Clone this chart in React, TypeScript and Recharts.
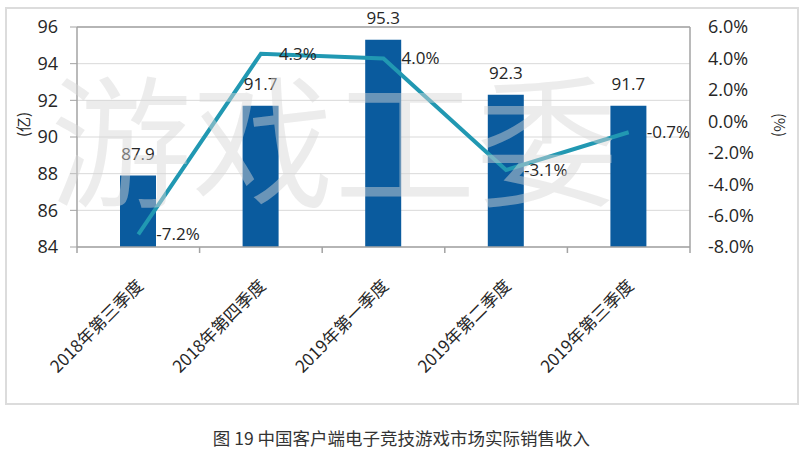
import { Bar, CartesianGrid, ComposedChart, LabelList, Line, ReferenceLine, XAxis, YAxis } from "recharts";

const quarters = ["2018年第三季度", "2018年第四季度", "2019年第一季度", "2019年第二季度", "2019年第三季度"];
const revenue = [87.9, 91.7, 95.3, 92.3, 91.7];
const growth = [-7.2, 4.3, 4.0, -3.1, -0.7];
const revenueTicks = [84, 86, 88, 90, 92, 94, 96];
const growthTicks = [-8, -6, -4, -2, 0, 2, 4, 6];

const data = quarters.map((q, i) => ({ quarter: q, revenue: revenue[i], growth: growth[i] }));

const W = 803;
const H = 410;
const LEFT_W = 77;
const RIGHT_W = 113;
const TOP = 27;
const X_H = 163;
const BAND = (W - LEFT_W - RIGHT_W) / quarters.length;

const AXIS = "#a3a3a3";
const GRID = "#d9d9d9";
const BAR = "#0a5b9e";
const LINE = "#2198b2";
const TEXT = "#262626";
const NUM_FONT = "'Open Sans', 'Noto Sans CJK SC', sans-serif";
const CJK_FONT = "'Noto Sans CJK SC', sans-serif";

function QuarterTick(props: any) {
  const { x, y, payload, index } = props;
  const half = BAND / 2;
  return (
    <g>
      <line x1={x - half} y1={y} x2={x - half} y2={y + 6} stroke={AXIS} strokeWidth={1.5} />
      {index === quarters.length - 1 && (
        <line x1={x + half} y1={y} x2={x + half} y2={y + 6} stroke={AXIS} strokeWidth={1.5} />
      )}
      <text
        transform={`translate(${x + 6},${y + 40}) rotate(-45)`}
        textAnchor="end"
        fontSize={17}
        fontFamily={CJK_FONT}
        fill={TEXT}
      >
        {payload.value}
      </text>
    </g>
  );
}

export default function App() {
  return (
    <div style={{ position: "fixed", left: 0, top: 0, width: W, height: 457, background: "#fff" }}>
      <div style={{ position: "absolute", left: 0, top: 0 }}>
        <ComposedChart width={W} height={H} data={data} margin={{ top: TOP, right: 0, bottom: 0, left: 0 }}>
          <CartesianGrid vertical={false} stroke={GRID} yAxisId="left" />
          <XAxis
            dataKey="quarter"
            height={X_H}
            interval={0}
            tickLine={false}
            tickSize={0}
            tickMargin={0}
            axisLine={{ stroke: AXIS, strokeWidth: 1.5 }}
            tick={<QuarterTick />}
          />
          <YAxis
            yAxisId="left"
            width={LEFT_W}
            domain={[84, 96]}
            ticks={revenueTicks}
            interval={0}
            tickSize={7}
            tickMargin={12}
            axisLine={{ stroke: AXIS, strokeWidth: 1.5 }}
            tickLine={{ stroke: AXIS }}
            tick={{ fontSize: 18, fill: TEXT, fontFamily: NUM_FONT }}
            label={{ value: "(亿)", angle: -90, position: "insideLeft", offset: 24, fontSize: 15, fill: TEXT, fontFamily: CJK_FONT }}
          />
          <YAxis
            yAxisId="right"
            orientation="right"
            width={RIGHT_W}
            domain={[-8, 6]}
            ticks={growthTicks}
            interval={0}
            tickLine={false}
            tickSize={0}
            tickMargin={18}
            axisLine={{ stroke: AXIS, strokeWidth: 1.5 }}
            tickFormatter={(v: number) => `${v.toFixed(1)}%`}
            tick={{ fontSize: 18, fill: TEXT, fontFamily: NUM_FONT }}
            label={{ value: "(%)", angle: 90, position: "insideRight", offset: 24, fontSize: 15, fill: TEXT, fontFamily: CJK_FONT }}
          />
          <ReferenceLine yAxisId="left" y={96} stroke={AXIS} strokeWidth={1.5} />
          <Bar yAxisId="left" dataKey="revenue" fill={BAR} barSize={36} isAnimationActive={false}>
            <LabelList
              dataKey="revenue"
              position="top"
              offset={16}
              fill={TEXT}
              fontSize={17}
              fontFamily={NUM_FONT}
              formatter={(v: any) => Number(v).toFixed(1)}
            />
          </Bar>
          <Line
            yAxisId="right"
            dataKey="growth"
            stroke={LINE}
            strokeWidth={4}
            dot={false}
            isAnimationActive={false}
          >
            <LabelList
              dataKey="growth"
              position="right"
              offset={18}
              fill={TEXT}
              fontSize={17}
              fontFamily={NUM_FONT}
              formatter={(v: any) => `${Number(v).toFixed(1)}%`}
            />
          </Line>
        </ComposedChart>
      </div>
      <div
        style={{
          position: "absolute",
          left: 50,
          top: 63,
          fontSize: 142,
          lineHeight: 1,
          fontFamily: CJK_FONT,
          fontWeight: 350,
          color: "rgba(215,215,215,0.47)",
          whiteSpace: "nowrap",
          pointerEvents: "none",
        }}
      >
        游戏工委
      </div>
      <div
        style={{
          position: "absolute",
          left: 5,
          top: 7,
          width: 790,
          height: 394,
          border: "2px solid #dcdcdc",
          pointerEvents: "none",
        }}
      />
      <div
        style={{
          position: "absolute",
          left: 0,
          top: 425,
          width: W,
          textAlign: "center",
          fontSize: 17.5,
          fontFamily: CJK_FONT,
          color: "#333",
        }}
      >
        图 19 中国客户端电子竞技游戏市场实际销售收入
      </div>
    </div>
  );
}
